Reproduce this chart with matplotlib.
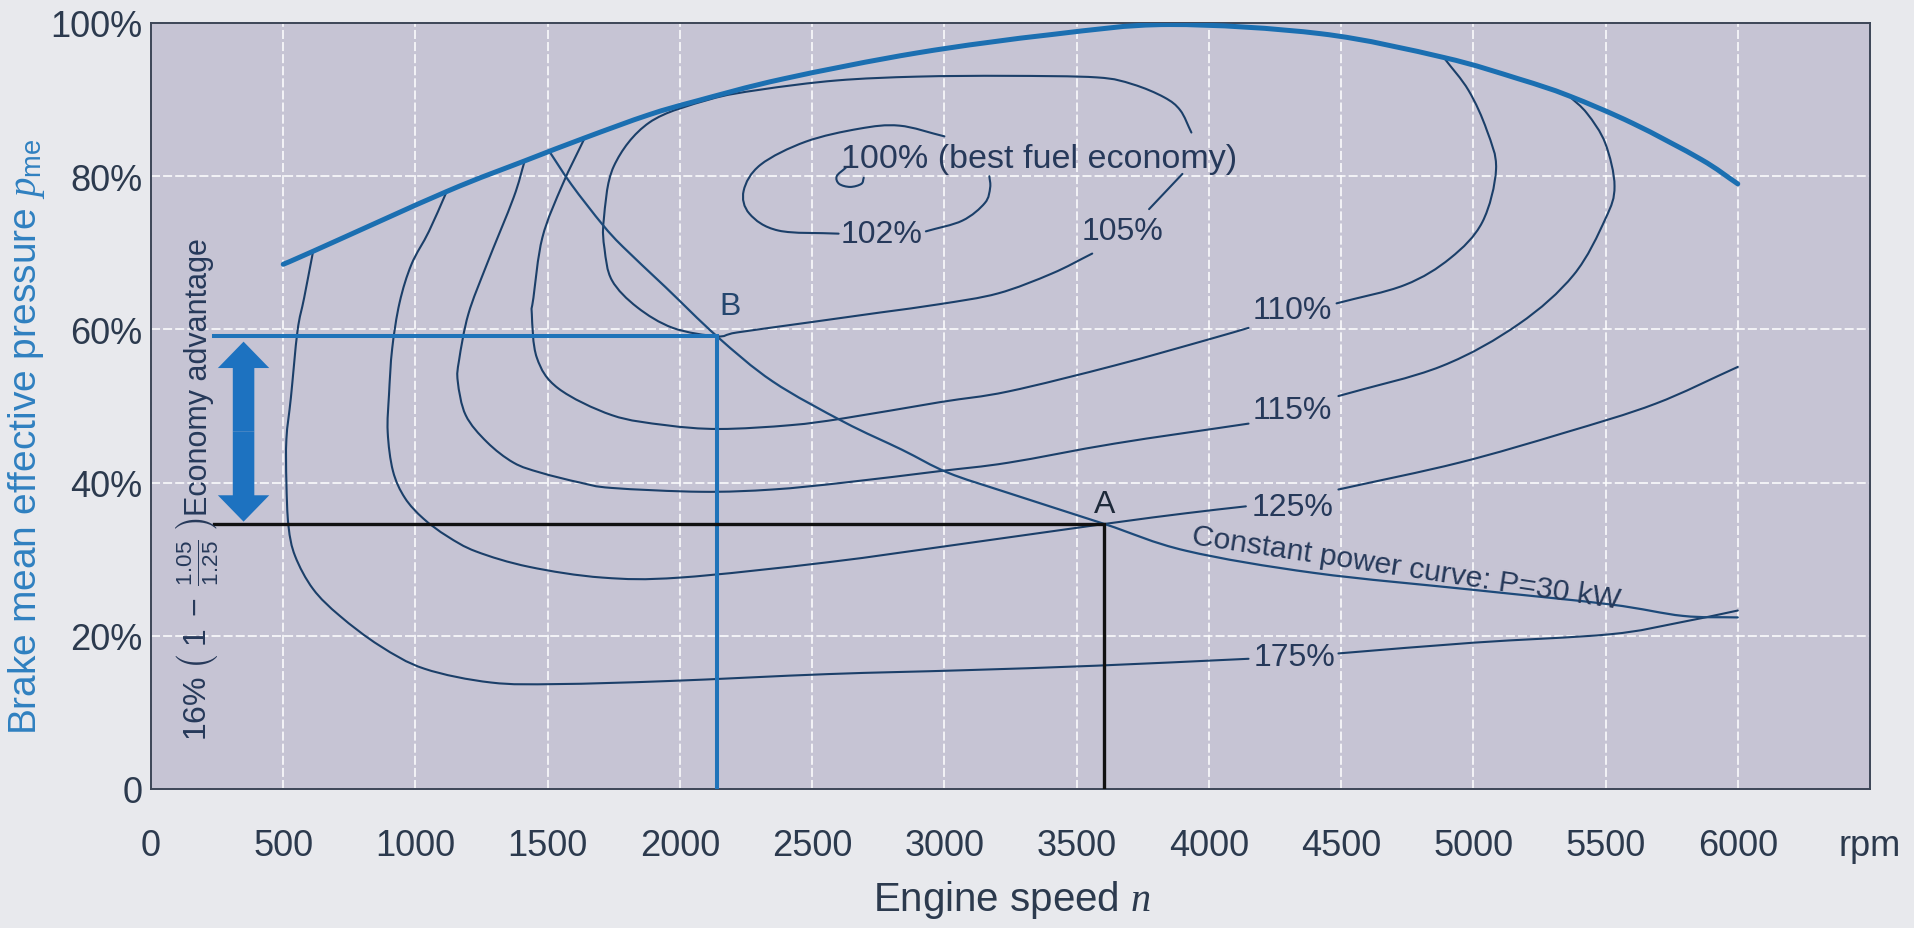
import numpy as np
import matplotlib
matplotlib.use("Agg")
import matplotlib.pyplot as plt
from matplotlib.path import Path
from matplotlib.patches import PathPatch, FancyArrowPatch

plt.rcParams['font.family'] = ['Liberation Sans', 'DejaVu Sans']
plt.rcParams['mathtext.fontset'] = 'custom'
plt.rcParams['mathtext.rm'] = 'Liberation Sans'
plt.rcParams['mathtext.it'] = 'Liberation Serif:italic'
plt.rcParams['mathtext.bf'] = 'Liberation Sans:bold'

# ---- axes ----
x_ticks = [0, 500, 1000, 1500, 2000, 2500, 3000, 3500, 4000, 4500, 5000, 5500, 6000, 6500]
x_tick_labels = ['0', '500', '1000', '1500', '2000', '2500', '3000', '3500',
                 '4000', '4500', '5000', '5500', '6000', 'rpm']
y_ticks = [0, 20, 40, 60, 80, 100]
y_tick_labels = ['0', '20%', '40%', '60%', '80%', '100%']

# ---- full-load line (rpm, % of max bmep) ----
full_rpm = [500, 613, 1118, 1413, 1640, 1881, 2061, 2390, 2898, 3407, 3850,
            4424, 4888, 5172, 5361, 5603, 5861, 6000]
full_pme = [68.5, 70.2, 78.0, 82.0, 85.0, 88.0, 89.8, 92.7, 96.1, 98.5, 99.8,
            98.6, 95.5, 92.7, 90.5, 86.9, 82.2, 79.0]

# ---- specific fuel consumption contours (split at their labels) ----
c100_rpm = [2627, 2593, 2602, 2644, 2686, 2695]
c100_pme = [81.1, 80.0, 79.0, 78.6, 79.0, 79.8]

c102a_rpm = [3000, 2830, 2678, 2475, 2305, 2241, 2263, 2373, 2600]
c102a_pme = [85.2, 86.6, 86.2, 84.5, 81.5, 78.1, 75.1, 72.9, 72.5]
c102b_rpm = [2930, 3068, 3153, 3173, 3170]
c102b_pme = [72.8, 74.2, 76.5, 78.5, 80.0]

c105a_rpm = [3559, 3407, 3203, 2983, 2756, 2486, 2216, 2140, 1973, 1838, 1743,
             1715, 1712, 1750, 1884, 2110, 2305, 2593, 2898, 3237, 3576, 3712,
             3831, 3892, 3934]
c105a_pme = [69.9, 67.3, 64.7, 63.3, 62.2, 60.9, 59.6, 59.1, 60.2, 62.9, 66.4,
             70.5, 74.3, 81.3, 87.0, 90.0, 91.3, 92.5, 93.0, 93.1, 92.9, 92.0,
             90.3, 88.6, 85.7]
c105b_rpm = [3900, 3774]
c105b_pme = [80.3, 75.7]

c110a_rpm = [1640, 1556, 1480, 1446, 1440, 1459, 1540, 1743, 1946, 2149, 2419,
             2621, 2983, 3242, 3645, 4000, 4150]
c110a_pme = [85.0, 78.9, 72.0, 64.1, 62.0, 56.3, 52.3, 48.8, 47.5, 47.0, 47.5,
             48.4, 50.5, 51.9, 55.3, 58.7, 60.2]
c110b_rpm = [4483, 4741, 4913, 5034, 5086, 5051, 4982, 4888]
c110b_pme = [63.4, 65.8, 69.3, 74.0, 80.9, 86.0, 91.2, 95.5]

c115a_rpm = [1413, 1371, 1270, 1200, 1165, 1160, 1190, 1270, 1371, 1473, 1623,
             1743, 2081, 2351, 2621, 2983, 3242, 3645, 4150]
c115a_pme = [82.0, 77.2, 68.5, 62.0, 56.0, 53.2, 48.8, 45.3, 42.6, 41.3, 40.0,
             39.3, 38.8, 39.1, 40.0, 41.5, 42.6, 45.1, 47.7]
c115b_rpm = [4490, 4880, 5172, 5379, 5499, 5534, 5499, 5430, 5361]
c115b_pme = [51.3, 55.2, 60.7, 67.1, 74.4, 78.7, 84.3, 88.2, 90.5]

c125a_rpm = [1118, 1051, 985, 940, 912, 900, 895, 915, 960, 1030, 1120, 1230,
             1430, 1707, 2000, 2559, 3068, 3605, 3914, 4140]
c125a_pme = [78.0, 72.8, 68.5, 63.5, 57.5, 51.5, 46.6, 41.5, 38.0, 35.3, 33.0,
             31.0, 29.0, 27.6, 27.6, 29.6, 32.0, 34.6, 36.0, 36.9]
c125b_rpm = [4490, 4946, 5344, 5689, 6000]
c125b_pme = [39.1, 42.6, 46.5, 50.3, 55.1]

c175a_rpm = [613, 579, 554, 529, 512, 512, 520, 545, 613, 714, 865, 1034, 1286,
             1539, 1960, 2559, 3068, 3576, 4150]
c175a_pme = [70.2, 64.1, 59.8, 51.1, 45.7, 40.0, 34.3, 30.4, 26.1, 22.6, 18.7,
             15.7, 13.9, 13.7, 14.1, 15.0, 15.5, 16.1, 17.0]
c175b_rpm = [4490, 5000, 5517, 5775, 6000]
c175b_pme = [17.7, 19.1, 20.2, 21.7, 23.3]

# ---- constant power curve P = 30 kW ----
cp_rpm = [1505, 1590, 1707, 1784, 1946, 2140, 2351, 2621, 2839, 3013, 3237,
          3605, 3914, 4400, 5000, 5517, 5792, 6000]
cp_pme = [83.3, 78.9, 73.7, 70.8, 65.5, 59.1, 53.2, 47.9, 44.3, 41.3, 38.7,
          34.6, 31.1, 28.2, 26.0, 24.1, 22.6, 22.4]

# ---- operating points ----
point_b = (2140, 59.1)
point_a = (3605, 34.6)
guide_start_rpm = 240
arrow_rpm = 350
arrow_top, arrow_bottom = 58.4, 34.9

contour_labels = ['102%', '105%', '110%', '115%', '125%', '175%']
contour_label_rpm = [2763, 3675, 4315, 4317, 4317, 4324]
contour_label_pme = [72.5, 72.8, 62.5, 49.5, 36.8, 17.2]

# ---- colours ----
fig_bg = '#e8e9ed'
ax_bg = '#c6c4d4'
contour_col = '#1b3f69'
full_col = '#1b6fb1'
guide_blue = '#1f73b9'
text_col = '#26395a'
tick_col = '#2c3a4e'
ylabel_col = '#2f80c0'


def smooth_path(xs, ys):
    """Uniform Catmull-Rom spline through the points, as cubic Bezier path."""
    pts = np.column_stack([xs, ys]).astype(float)
    if len(pts) < 3:
        return Path(pts)
    ext = np.vstack([2 * pts[0] - pts[1], pts, 2 * pts[-1] - pts[-2]])
    verts = [pts[0]]
    codes = [Path.MOVETO]
    for i in range(1, len(ext) - 2):
        p0, p1, p2, p3 = ext[i - 1], ext[i], ext[i + 1], ext[i + 2]
        verts += [p1 + (p2 - p0) / 6.0, p2 - (p3 - p1) / 6.0, p2]
        codes += [Path.CURVE4] * 3
    return Path(verts, codes)


def curve(ax, xs, ys, color, lw, z=3):
    ax.add_patch(PathPatch(smooth_path(xs, ys), fill=False, edgecolor=color,
                           lw=lw, capstyle='round', joinstyle='round', zorder=z))


fig = plt.figure(figsize=(19.15, 9.29), dpi=100, facecolor=fig_bg)
ax = fig.add_axes([151 / 1915, 139 / 929, 1719 / 1915, 766 / 929])
ax.set_facecolor(ax_bg)
ax.set_xlim(0, 6500)
ax.set_ylim(0, 100)

ax.set_xticks(x_ticks)
ax.set_xticklabels(x_tick_labels)
ax.set_yticks(y_ticks)
ax.set_yticklabels(y_tick_labels)
ax.tick_params(axis='both', length=0, labelsize=26, labelcolor=tick_col)
ax.tick_params(axis='x', pad=28)
ax.tick_params(axis='y', pad=6)
ax.grid(True, color='white', lw=1.3, linestyle=(0, (5, 1.7)), alpha=0.85)
ax.set_axisbelow(True)
for s in ax.spines.values():
    s.set_color('#3c4556')
    s.set_linewidth(1.4)

# contours
for xs, ys in [(c100_rpm, c100_pme), (c102a_rpm, c102a_pme), (c102b_rpm, c102b_pme),
               (c105a_rpm, c105a_pme), (c105b_rpm, c105b_pme),
               (c110a_rpm, c110a_pme), (c110b_rpm, c110b_pme),
               (c115a_rpm, c115a_pme), (c115b_rpm, c115b_pme),
               (c125a_rpm, c125a_pme), (c125b_rpm, c125b_pme),
               (c175a_rpm, c175a_pme), (c175b_rpm, c175b_pme)]:
    curve(ax, xs, ys, contour_col, 1.5)

curve(ax, cp_rpm, cp_pme, '#1d4a7a', 1.6)
curve(ax, full_rpm, full_pme, full_col, 3.6, z=5)

# guide lines to operating points
ax.plot([guide_start_rpm, point_b[0], point_b[0]], [point_b[1], point_b[1], 0],
        color=guide_blue, lw=2.9, solid_joinstyle='miter', zorder=4)
ax.plot([guide_start_rpm, point_a[0], point_a[0]], [point_a[1], point_a[1], 0],
        color='#111111', lw=2.4, solid_joinstyle='miter', zorder=4)

# double arrow: economy advantage
mid = (arrow_top + arrow_bottom) / 2
style = 'simple,head_width=37,head_length=19,tail_width=15.5'
for end in (arrow_top, arrow_bottom):
    ax.add_patch(FancyArrowPatch((arrow_rpm, mid), (arrow_rpm, end), arrowstyle=style,
                                 mutation_scale=1, color='#1d72c0', lw=0,
                                 shrinkA=0, shrinkB=0, zorder=6))

# labels
ax.text(2189, 63.1, 'B', ha='center', va='center', fontsize=23, color='#24466e', zorder=7)
ax.text(3605, 37.2, 'A', ha='center', va='center', fontsize=23, color='#1e2a3a', zorder=7)
for lab, lx, ly in zip(contour_labels, contour_label_rpm, contour_label_pme):
    ax.text(lx, ly, lab, ha='center', va='center', fontsize=23, color=text_col, zorder=7)
ax.text(2608, 81.2, '100% (best fuel economy)', ha='left', va='baseline',
        fontsize=24.5, color=text_col, zorder=7)
ax.text(4745, 28.9, 'Constant power curve: P=30 kW', rotation=-8.6,
        rotation_mode='anchor', ha='center', va='center', fontsize=21.7,
        color=text_col, zorder=7)
ax.text(210, 53.9, 'Economy advantage', rotation=90, rotation_mode='anchor',
        ha='center', va='baseline', fontsize=22, color=text_col, zorder=7)
ax.text(210, 21.0, r'$16\%\ \left(\ 1\ -\ \frac{1.05}{1.25}\ \right)$', rotation=90,
        rotation_mode='anchor', ha='center', va='baseline', fontsize=23,
        color=text_col, zorder=7)

fig.text(27 / 1915, 0.53, r'Brake mean effective pressure $p_{\mathrm{me}}$',
         rotation=90, ha='center', va='center', fontsize=28, color=ylabel_col)
fig.text(1012 / 1915, 1 - 900 / 929, r'Engine speed $n$', ha='center', va='center',
         fontsize=29, color=tick_col)

fig.savefig('out.png', dpi=100, facecolor=fig_bg)
